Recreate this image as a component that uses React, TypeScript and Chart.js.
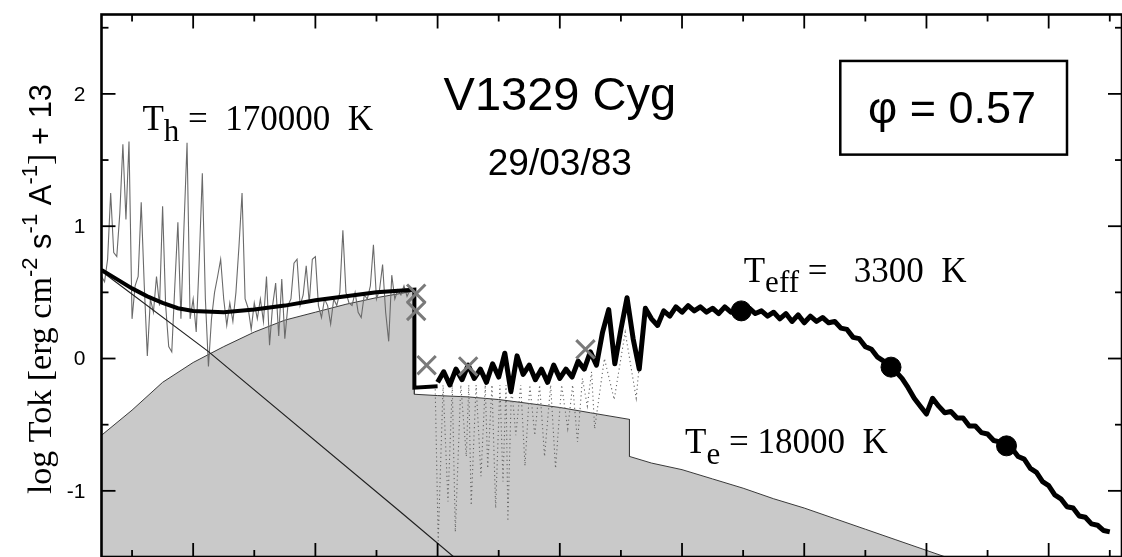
import React, { useEffect, useRef } from 'react';
import { Chart, registerables } from 'chart.js';

Chart.register(...registerables);

// ---- axes (x = log wavelength [A], y = log flux + 13) ----
const X_MIN = 3.05;
const X_MAX = 4.72;
const Y_MIN = -1.5;
const Y_MAX = 2.6;
const X_MAJOR_TICKS = [3.2, 3.4, 3.6, 3.8, 4.0, 4.2, 4.4, 4.6];
const X_MINOR_TICKS = [3.1, 3.3, 3.5, 3.7, 3.9, 4.1, 4.3, 4.5, 4.7];
const Y_MAJOR_TICKS = [-1, 0, 1, 2];
const Y_MINOR_TICKS = [-1.5, -0.5, 0.5, 1.5, 2.5];
const Y_TICK_LABELS = ['-1', '0', '1', '2'];

// ---- IUE ultraviolet spectrum (thin grey) ----
const UV_START = 3.05;
const UV_STEP = 0.005;
const UV_FLUX = [
  0.62, 0.58, 0.75, 1.25, 0.80, 0.77, 1.10, 1.62, 1.05, 1.64,
  0.30, 0.55, 0.62, 1.18, 0.55, 0.02, 0.45, 0.35, 0.62, 0.40,
  1.15, 0.40, 0.09, 0.05, 0.55, 1.03, 0.30, 1.00, 1.63, 0.30,
  0.45, 0.20, 0.75, 1.40, 0.45, -0.06, 0.30, 0.50, 0.62, 0.75,
  0.45, 0.25, 0.42, 0.28, 0.50, 0.85, 1.25, 0.45, 0.38, 0.22,
  0.42, 0.30, 0.45, 0.28, 0.62, 0.10, 0.40, 0.57, 0.17, 0.60,
  0.15, 0.40, 0.45, 0.72, 0.75, 0.40, 0.48, 0.70, 0.42, 0.75,
  0.77, 0.40, 0.31, 0.45, 0.40, 0.26, 0.45, 0.40, 0.50, 0.97,
  0.50, 0.42, 0.40, 0.50, 0.35, 0.31, 0.48, 0.45, 0.55, 0.86,
  0.45, 0.52, 0.71, 0.35, 0.13, 0.63, 0.45, 0.52, 0.48, 0.55,
  0.47, 0.52, 0.50,
];

// ---- optical / IR spectrum (thick black) ----
const OPT_START = 3.6;
const OPT_STEP = 0.01;
const OPT_FLUX = [
  -0.18, -0.10, -0.20, -0.08, -0.16, -0.05, -0.15, -0.08, -0.18, -0.04,
  -0.14, 0.04, -0.25, 0.02, -0.12, -0.05, -0.16, -0.08, -0.18, -0.05,
  -0.15, -0.08, -0.14, -0.02, -0.08, 0.05, -0.05, 0.20, 0.37, -0.04,
  0.22, 0.46, 0.15, -0.08, 0.38, 0.30, 0.25, 0.36, 0.32, 0.39,
  0.35, 0.40, 0.36, 0.39, 0.35, 0.38, 0.34, 0.39, 0.35, 0.37,
  0.36, 0.38, 0.34, 0.36, 0.32, 0.35, 0.30, 0.34, 0.28, 0.33,
  0.27, 0.32, 0.28, 0.31, 0.27, 0.28, 0.23, 0.22, 0.16, 0.15,
  0.09, 0.07, 0.01, -0.02, -0.07, -0.10, -0.15, -0.22, -0.30, -0.36,
  -0.42, -0.30, -0.36, -0.41, -0.40, -0.45, -0.45, -0.51, -0.51, -0.56,
  -0.57, -0.62, -0.63, -0.67, -0.68, -0.74, -0.76, -0.83, -0.86, -0.93,
  -0.96, -1.03, -1.06, -1.12, -1.13, -1.19, -1.20, -1.25, -1.26, -1.30,
  -1.31,
];

// ---- dotted absorption spectrum ----
const DOT_X = [
  3.596, 3.601, 3.609, 3.617, 3.624, 3.629, 3.638, 3.647, 3.651, 3.655,
  3.663, 3.671, 3.678, 3.682, 3.689, 3.695, 3.702, 3.707, 3.712, 3.715,
  3.721, 3.728, 3.736, 3.743, 3.751, 3.759, 3.767, 3.775, 3.785, 3.793,
  3.803, 3.813, 3.821, 3.829, 3.837, 3.845, 3.852, 3.857, 3.873, 3.889,
  3.907, 3.925, 3.935,
];
const DOT_Y = [
  -0.20, -1.38, -0.20, -1.08, -0.20, -1.31, -0.20, -0.74, -0.20, -1.11,
  -0.20, -0.89, -0.20, -0.83, -0.20, -1.13, -0.20, -0.93, -0.20, -1.23,
  -0.20, -0.58, -0.20, -0.81, -0.20, -0.58, -0.20, -0.74, -0.20, -0.83,
  -0.20, -0.53, -0.20, -0.63, -0.15, -0.36, -0.10, -0.53, 0.00, -0.31,
  0.20, -0.30, 0.20,
];

// ---- nebular continuum T_e = 18000 K (grey area) ----
const NEB_X = [
  3.05, 3.10, 3.15, 3.20, 3.25, 3.30, 3.35, 3.40, 3.45, 3.50,
  3.562, 3.562, 3.60, 3.65, 3.70, 3.75, 3.80, 3.85, 3.914, 3.914,
  3.95, 4.00, 4.05, 4.10, 4.15, 4.20, 4.25, 4.30, 4.35, 4.40, 4.45,
];
const NEB_Y = [
  -0.58, -0.39, -0.18, -0.03, 0.09, 0.20, 0.29, 0.35, 0.41, 0.46,
  0.51, -0.27, -0.28, -0.29, -0.31, -0.34, -0.37, -0.41, -0.46, -0.74,
  -0.79, -0.84, -0.91, -0.98, -1.06, -1.13, -1.21, -1.29, -1.37, -1.45, -1.53,
];

// ---- hot stellar source T_h = 170000 K (thin black) ----
const HOT_X = [3.05, 3.224, 3.537, 3.66];
const HOT_Y = [0.66, 0.056, -1.15, -1.63];

// ---- total model (thick black) ----
const MODEL_X = [3.05, 3.075, 3.10, 3.125, 3.15, 3.175, 3.20, 3.25, 3.30, 3.35, 3.40, 3.45, 3.50, 3.562, 3.562, 3.60];
const MODEL_Y = [0.67, 0.60, 0.53, 0.47, 0.42, 0.38, 0.36, 0.35, 0.37, 0.40, 0.44, 0.47, 0.50, 0.52, -0.22, -0.21];

// ---- crosses and photometric points ----
const CROSS_X = [3.565, 3.565, 3.582, 3.65, 3.842];
const CROSS_Y = [0.49, 0.36, -0.05, -0.06, 0.07];
const PHOT_X = [4.097, 4.342, 4.531];
const PHOT_Y = [0.36, -0.065, -0.66];

const pairs = (xs: number[], ys: number[]) => xs.map((x, i) => ({ x, y: ys[i] }));
const grid = (start: number, step: number, ys: number[]) =>
  ys.map((y, i) => ({ x: +(start + i * step).toFixed(4), y }));

const SERIF = '"Liberation Serif", "Times New Roman", serif';
const SANS = '"Liberation Sans", Arial, sans-serif';

const W = 1122;
const H = 557;

const decor = {
  id: 'decor',
  afterDatasetsDraw(chart: any) {
    const { ctx, chartArea: a, scales } = chart;
    const x = scales.x;
    const y = scales.y;
    const X = (v: number) => x.getPixelForValue(v);
    const Y = (v: number) => y.getPixelForValue(v);
    ctx.save();
    ctx.strokeStyle = '#000';
    ctx.fillStyle = '#000';

    const seg = (x1: number, y1: number, x2: number, y2: number) => {
      ctx.beginPath();
      ctx.moveTo(x1, y1);
      ctx.lineTo(x2, y2);
      ctx.stroke();
    };
    ctx.lineWidth = 1.8;
    const xt = (v: number, len: number) => {
      const p = X(v);
      seg(p, a.top, p, a.top + len);
      seg(p, a.bottom, p, a.bottom - len);
    };
    const yt = (v: number, len: number) => {
      const p = Y(v);
      seg(a.left, p, a.left + len, p);
      seg(a.right, p, a.right - len, p);
    };
    X_MAJOR_TICKS.forEach((v) => xt(v, 14));
    X_MINOR_TICKS.forEach((v) => xt(v, 7));
    Y_MAJOR_TICKS.forEach((v) => yt(v, 14));
    Y_MINOR_TICKS.forEach((v) => yt(v, 7));

    ctx.lineWidth = 2.6;
    ctx.strokeRect(a.left, a.top, a.right - a.left, a.bottom - a.top);

    // y tick labels
    ctx.font = `21px ${SANS}`;
    ctx.textAlign = 'right';
    ctx.textBaseline = 'middle';
    Y_MAJOR_TICKS.forEach((v, i) => ctx.fillText(Y_TICK_LABELS[i], a.left - 16, Y(v) + 1));

    // y axis title with superscripts (rotated, reading upwards)
    const segs = [
      { t: 'log Tok [erg cm', f: `34px ${SERIF}`, r: 0 },
      { t: '-2', f: `22px ${SANS}`, r: 14 },
      { t: ' s', f: `31px ${SANS}`, r: 0 },
      { t: '-1', f: `22px ${SANS}`, r: 14 },
      { t: ' A', f: `31px ${SANS}`, r: 0 },
      { t: '-1', f: `22px ${SANS}`, r: 14 },
      { t: ']', f: `34px ${SERIF}`, r: 0 },
      { t: ' + 13', f: `31px ${SANS}`, r: 0 },
    ];
    ctx.textAlign = 'left';
    ctx.textBaseline = 'alphabetic';
    let total = 0;
    segs.forEach((s) => {
      ctx.font = s.f;
      total += ctx.measureText(s.t).width;
    });
    ctx.save();
    ctx.translate(51, 289 + total / 2);
    ctx.rotate(-Math.PI / 2);
    let cx = 0;
    segs.forEach((s) => {
      ctx.font = s.f;
      ctx.fillText(s.t, cx, -s.r);
      cx += ctx.measureText(s.t).width;
    });
    ctx.restore();

    // labels with subscripts
    const subLabel = (xv: number, yv: number, main: string, sub: string, rest: string, drop: number) => {
      let px = X(xv);
      const py = Y(yv);
      ctx.textAlign = 'left';
      ctx.textBaseline = 'alphabetic';
      ctx.font = `35px ${SERIF}`;
      ctx.fillText(main, px, py);
      px += ctx.measureText(main).width;
      ctx.font = `31px ${SERIF}`;
      ctx.fillText(sub, px, py + drop);
      px += ctx.measureText(sub).width;
      ctx.font = `35px ${SERIF}`;
      ctx.fillText(rest, px, py);
    };
    subLabel(3.117, 1.73, 'T', 'h', ' =  170000  K', 11);
    subLabel(4.101, 0.576, 'T', 'eff', ' =   3300  K', 10);
    subLabel(4.005, -0.712, 'T', 'e', ' = 18000  K', 11);

    ctx.textAlign = 'center';
    ctx.font = `47px ${SANS}`;
    ctx.fillText('V1329 Cyg', X(3.8), Y(1.88));
    ctx.font = `37px ${SANS}`;
    ctx.fillText('29/03/83', X(3.8), Y(1.39));

    // phase box
    ctx.lineWidth = 2.5;
    const bx1 = X(4.259), bx2 = X(4.63), by1 = Y(2.249), by2 = Y(1.541);
    ctx.strokeRect(bx1, by1, bx2 - bx1, by2 - by1);
    ctx.font = `45px ${SANS}`;
    ctx.fillText('φ = 0.57', X(4.442), Y(1.78));

    ctx.restore();
  },
};

export default function App() {
  const ref = useRef<HTMLCanvasElement>(null);
  useEffect(() => {
    document.body.style.margin = '0';
    document.body.style.overflow = 'hidden';
    document.documentElement.style.overflow = 'hidden';
    const chart = new Chart(ref.current as HTMLCanvasElement, {
      type: 'line',
      data: {
        datasets: [
          {
            label: 'photometry',
            data: pairs(PHOT_X, PHOT_Y),
            showLine: false,
            pointRadius: 10,
            pointStyle: 'circle',
            backgroundColor: '#000',
            borderColor: '#000',
            borderWidth: 1,
            order: 0,
          },
          {
            label: 'crosses',
            data: pairs(CROSS_X, CROSS_Y),
            showLine: false,
            pointRadius: 13,
            pointStyle: 'crossRot',
            borderColor: '#7a7a7a',
            borderWidth: 3,
            order: 1,
          },
          {
            label: 'optical',
            data: grid(OPT_START, OPT_STEP, OPT_FLUX),
            borderColor: '#000',
            borderWidth: 5,
            pointRadius: 0,
            tension: 0,
            borderJoinStyle: 'round',
            order: 2,
          },
          {
            label: 'model',
            data: pairs(MODEL_X, MODEL_Y),
            borderColor: '#000',
            borderWidth: 4,
            pointRadius: 0,
            tension: 0,
            order: 3,
          },
          {
            label: 'hot',
            data: pairs(HOT_X, HOT_Y),
            borderColor: '#222',
            borderWidth: 1.2,
            pointRadius: 0,
            tension: 0,
            order: 4,
          },
          {
            label: 'uv',
            data: grid(UV_START, UV_STEP, UV_FLUX),
            borderColor: '#6a6a6a',
            borderWidth: 1.1,
            pointRadius: 0,
            tension: 0,
            order: 5,
          },
          {
            label: 'dotted',
            data: pairs(DOT_X, DOT_Y),
            borderColor: '#666',
            borderWidth: 1.1,
            borderDash: [1.2, 3],
            pointRadius: 0,
            tension: 0,
            order: 6,
          },
          {
            label: 'nebular',
            data: pairs(NEB_X, NEB_Y),
            borderColor: '#3a3a3a',
            borderWidth: 1,
            backgroundColor: '#c9c9c9',
            fill: 'start',
            pointRadius: 0,
            tension: 0,
            order: 10,
          },
        ],
      },
      options: {
        responsive: false,
        animation: false,
        devicePixelRatio: 1,
        layout: { autoPadding: false, padding: { left: 101.5, top: 14.5, right: -6, bottom: -2 } },
        plugins: { legend: { display: false }, tooltip: { enabled: false } },
        scales: {
          x: { type: 'linear', min: X_MIN, max: X_MAX, display: false },
          y: { type: 'linear', min: Y_MIN, max: Y_MAX, display: false },
        },
      },
      plugins: [decor],
    } as any);
    return () => chart.destroy();
  }, []);
  return (
    <div style={{ width: W, height: H, overflow: 'hidden', background: '#fff' }}>
      <canvas ref={ref} width={W} height={H} style={{ width: W, height: H, display: 'block' }} />
    </div>
  );
}
